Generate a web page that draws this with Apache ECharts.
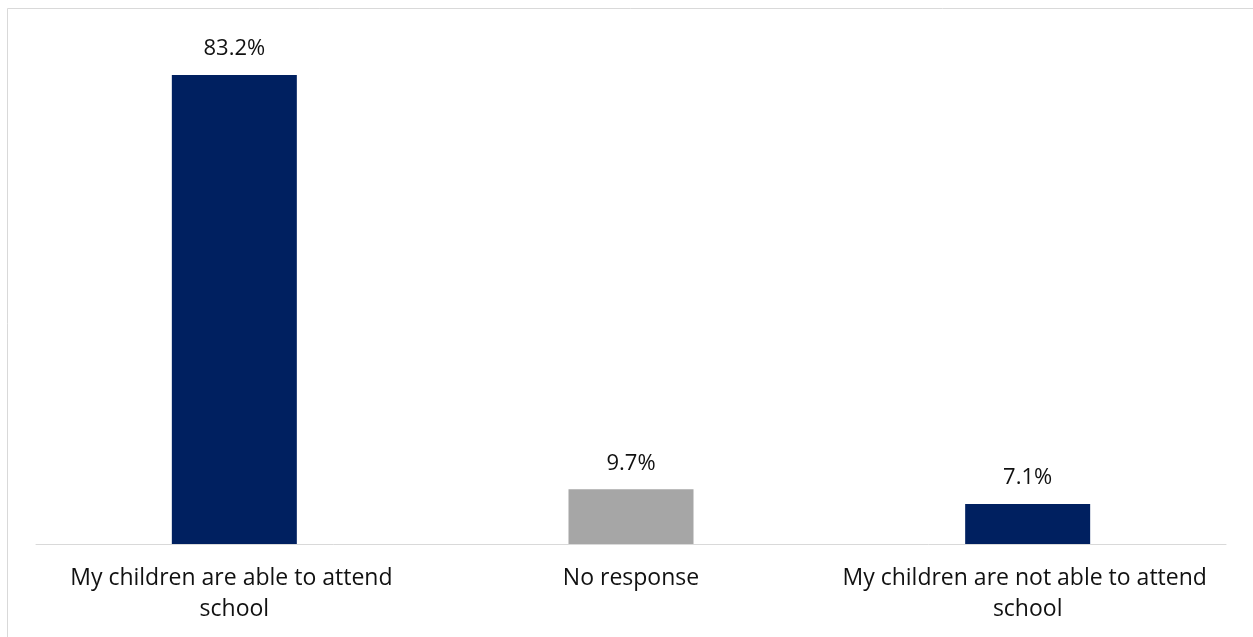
<!DOCTYPE html>
<html>
<head>
<meta charset="utf-8">
<script src="https://cdn.jsdelivr.net/npm/echarts@6/dist/echarts.min.js"></script>
<style>
html,body{margin:0;padding:0;background:#fff;}
#chart{width:1253px;height:637px;}
</style>
</head>
<body>
<div id="chart"></div>
<script>
const categories = ['My children are able to attend school', 'No response', 'My children are not able to attend school'];
const values = [83.2, 9.7, 7.1];
const barColors = ['#002060', '#A6A6A6', '#002060'];

const chart = echarts.init(document.getElementById('chart'), null, {renderer: 'canvas'});
const FONT = 'Open Sans';
chart.setOption({
  animation: false,
  backgroundColor: '#ffffff',
  graphic: [{
    type: 'rect',
    shape: {x: 7.5, y: 8.5, width: 1400, height: 800},
    style: {fill: 'none', stroke: '#d9d9d9', lineWidth: 1},
    silent: true
  }],
  grid: {left: 36, right: 27, top: 36.7, bottom: 93},
  xAxis: {
    type: 'category',
    data: categories,
    axisLine: {show: true, lineStyle: {color: '#d9d9d9', width: 1}},
    axisTick: {show: false},
    axisLabel: {
      color: '#111111',
      fontFamily: FONT,
      fontSize: 23,
      lineHeight: 31,
      margin: 19,
      interval: 0,
      width: 380,
      overflow: 'break'
    }
  },
  yAxis: {
    type: 'value',
    min: 0,
    max: 90,
    show: false,
    splitLine: {show: false}
  },
  series: [{
    type: 'bar',
    barWidth: 125,
    data: values.map((v, i) => ({value: v, itemStyle: {color: barColors[i]}})),
    label: {
      show: true,
      position: 'top',
      distance: 15,
      color: '#111111',
      fontFamily: FONT,
      fontSize: 22,
      formatter: p => p.value.toFixed(1) + '%'
    }
  }]
});
</script>
</body>
</html>
